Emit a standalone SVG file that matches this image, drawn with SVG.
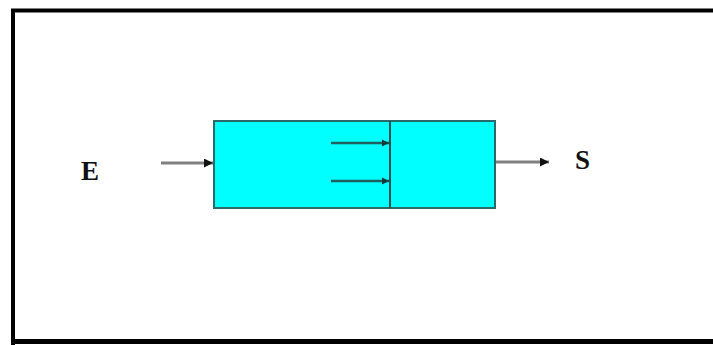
<svg xmlns="http://www.w3.org/2000/svg" width="713" height="345" viewBox="0 0 713 345">
<defs>
<style>
.lbl{font-family:"Liberation Serif","Times New Roman",serif;font-weight:bold;font-size:27px;fill:#111}
.flow{stroke:#808080;stroke-width:3;fill:none}
.inner{stroke:#1f5f5f;stroke-width:2.5;fill:none}
</style>
<marker id="ah" viewBox="0 0 10 10" refX="10" refY="5" markerWidth="3" markerHeight="3" markerUnits="strokeWidth" orient="auto">
<path d="M0,0 L10,5 L0,10 z" fill="#111"/>
</marker>
<marker id="ai" viewBox="0 0 10 10" refX="10" refY="5" markerWidth="3" markerHeight="3" markerUnits="strokeWidth" orient="auto">
<path d="M0,0 L10,5 L0,10 z" fill="#0f3a3a"/>
</marker>
</defs>
<rect width="713" height="345" fill="#fff"/>
<path d="M13,345 L13,10.5 L713,10.5" fill="none" stroke="#000" stroke-width="4"/>
<line x1="13" y1="341.5" x2="713" y2="341.5" stroke="#000" stroke-width="5"/>
<g id="reactor">
<rect x="214" y="121" width="281" height="87" fill="#00ffff" stroke="#2a6a6a" stroke-width="2"/>
<line x1="390" y1="121" x2="390" y2="208" stroke="#1f4f4f" stroke-width="2"/>
</g>
<g id="E"><text class="lbl" x="81" y="180">E</text></g>
<g id="S"><text class="lbl" x="575" y="169">S</text></g>
<g id="connectors">
<line class="flow" x1="161" y1="163" x2="213" y2="163" marker-end="url(#ah)"/>
<line class="flow" x1="496" y1="162" x2="549" y2="162" marker-end="url(#ah)"/>
<line class="inner" x1="331" y1="143" x2="389" y2="143" marker-end="url(#ai)"/>
<line class="inner" x1="331" y1="181" x2="389" y2="181" marker-end="url(#ai)"/>
</g>
</svg>
